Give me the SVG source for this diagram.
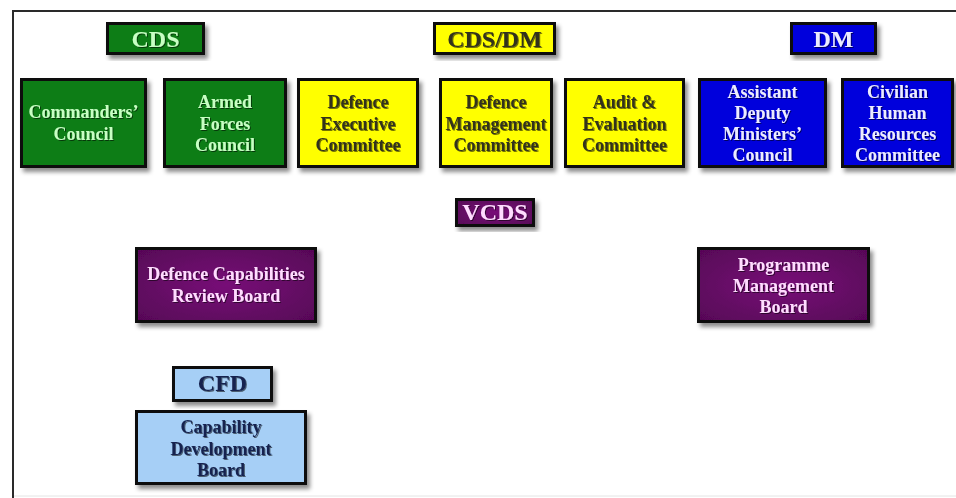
<svg xmlns="http://www.w3.org/2000/svg" width="956" height="498" viewBox="0 0 956 498">
  <defs>
    <filter id="shadow" x="-10%" y="-10%" width="125%" height="135%">
      <feDropShadow dx="3" dy="4" stdDeviation="2" flood-color="#000" flood-opacity="0.45"/>
    </filter>
    <filter id="emboss" x="-5%" y="-20%" width="110%" height="140%">
      <feDropShadow dx="1" dy="1" stdDeviation="0.4" flood-color="#000" flood-opacity="0.55"/>
    </filter>
    <radialGradient id="purple" cx="50%" cy="50%" r="70%">
      <stop offset="0" stop-color="#770c77"/>
      <stop offset="1" stop-color="#560656"/>
    </radialGradient>
  </defs>
  <style>
    .box { stroke: #0a0a0a; stroke-width: 3; filter: url(#shadow); }
    .green { fill: #0f7d18; }
    .yellow { fill: #ffff00; }
    .blue { fill: #0000dc; }
    .purple { fill: url(#purple); }
    .light { fill: #a6cff6; }
    .lbl { font-family: 'Liberation Serif', 'DejaVu Serif', serif; font-weight: 700; text-anchor: middle; filter: url(#emboss); }
    .t { font-size: 18px; }
    .h { font-size: 24px; }
    .tg { fill: #c8ffc4; }
    .ty { fill: #33331f; }
    .tb { fill: #ececff; }
    .tp { fill: #ffdcff; }
    .tl { fill: #16244f; }
    .frame { stroke: #2a2a2a; stroke-width: 2; fill: none; }
  </style>

  <rect width="956" height="498" fill="#ffffff"/>

  <!-- page frame -->
  <path class="frame" d="M13,498 V11 H956"/>
  <line x1="14" y1="496" x2="956" y2="496" stroke="#e4e4e4" stroke-width="1"/>

  <g id="connectors"/>

  <g font-family="Liberation Serif, serif">
  <!-- CDS column -->
  <g id="cds">
    <rect class="box green" x="107.5" y="23.5" width="96" height="30"/>
    <text class="lbl h tg" x="155.5" y="47">CDS</text>
  </g>
  <g id="commanders-council">
    <rect class="box green" x="21.5" y="79.5" width="124" height="87"/>
    <text class="lbl t tg" x="83.5" y="118">Commanders’</text>
    <text class="lbl t tg" x="83.5" y="139.5">Council</text>
  </g>
  <g id="armed-forces-council">
    <rect class="box green" x="164.5" y="79.5" width="121" height="87"/>
    <text class="lbl t tg" x="225" y="108">Armed</text>
    <text class="lbl t tg" x="225" y="129.5">Forces</text>
    <text class="lbl t tg" x="225" y="151">Council</text>
  </g>

  <!-- CDS/DM column -->
  <g id="cds-dm">
    <rect class="box yellow" x="434.5" y="23.5" width="120" height="30"/>
    <text class="lbl h ty" x="494.5" y="47">CDS/DM</text>
  </g>
  <g id="defence-executive-committee">
    <rect class="box yellow" x="298.5" y="79.5" width="119" height="87"/>
    <text class="lbl t ty" x="358" y="108">Defence</text>
    <text class="lbl t ty" x="358" y="129.5">Executive</text>
    <text class="lbl t ty" x="358" y="151">Committee</text>
  </g>
  <g id="defence-management-committee">
    <rect class="box yellow" x="440.5" y="79.5" width="111" height="87"/>
    <text class="lbl t ty" x="496" y="108">Defence</text>
    <text class="lbl t ty" x="496" y="129.5">Management</text>
    <text class="lbl t ty" x="496" y="151">Committee</text>
  </g>
  <g id="audit-evaluation-committee">
    <rect class="box yellow" x="565.5" y="79.5" width="118" height="87"/>
    <text class="lbl t ty" x="624.5" y="108">Audit &amp;</text>
    <text class="lbl t ty" x="624.5" y="129.5">Evaluation</text>
    <text class="lbl t ty" x="624.5" y="151">Committee</text>
  </g>

  <!-- DM column -->
  <g id="dm">
    <rect class="box blue" x="791.5" y="23.5" width="84" height="30"/>
    <text class="lbl h tb" x="833.5" y="47">DM</text>
  </g>
  <g id="adm-council">
    <rect class="box blue" x="699.5" y="79.5" width="126" height="87"/>
    <text class="lbl t tb" x="762.5" y="98">Assistant</text>
    <text class="lbl t tb" x="762.5" y="119">Deputy</text>
    <text class="lbl t tb" x="762.5" y="140">Ministers’</text>
    <text class="lbl t tb" x="762.5" y="161">Council</text>
  </g>
  <g id="chr-committee">
    <rect class="box blue" x="842.5" y="79.5" width="110" height="87"/>
    <text class="lbl t tb" x="897.5" y="98">Civilian</text>
    <text class="lbl t tb" x="897.5" y="119">Human</text>
    <text class="lbl t tb" x="897.5" y="140">Resources</text>
    <text class="lbl t tb" x="897.5" y="161">Committee</text>
  </g>

  <!-- VCDS -->
  <g id="vcds">
    <rect class="box purple" x="456.5" y="199.5" width="77" height="26"/>
    <text class="lbl h tp" x="495" y="220">VCDS</text>
  </g>
  <g id="defence-capabilities-review-board">
    <rect class="box purple" x="136.5" y="248.5" width="179" height="73"/>
    <text class="lbl t tp" x="226" y="280">Defence Capabilities</text>
    <text class="lbl t tp" x="226" y="302">Review Board</text>
  </g>
  <g id="programme-management-board">
    <rect class="box purple" x="698.5" y="248.5" width="170" height="73"/>
    <text class="lbl t tp" x="783.5" y="271">Programme</text>
    <text class="lbl t tp" x="783.5" y="292">Management</text>
    <text class="lbl t tp" x="783.5" y="313">Board</text>
  </g>

  <!-- CFD -->
  <g id="cfd">
    <rect class="box light" x="173.5" y="367.5" width="98" height="33"/>
    <text class="lbl h tl" x="222.5" y="391">CFD</text>
  </g>
  <g id="capability-development-board">
    <rect class="box light" x="136.5" y="411.5" width="169" height="72"/>
    <text class="lbl t tl" x="221" y="433">Capability</text>
    <text class="lbl t tl" x="221" y="454.5">Development</text>
    <text class="lbl t tl" x="221" y="476">Board</text>
  </g>
  </g>
</svg>
